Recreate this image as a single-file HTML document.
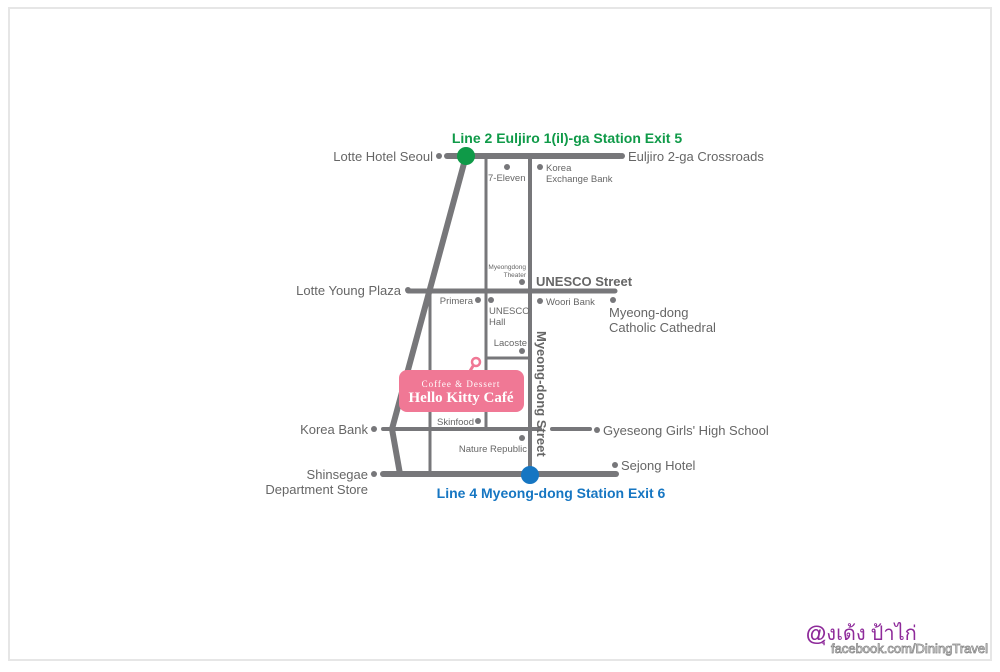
<!DOCTYPE html>
<html><head><meta charset="utf-8"><style>
body{margin:0;width:1000px;height:667px;background:#fff;overflow:hidden}
svg text{font-family:"Liberation Sans",sans-serif}
</style></head><body>
<svg width="1000" height="667" viewBox="0 0 1000 667">
<rect x="0" y="0" width="1000" height="667" fill="#fff"/>
<rect x="9" y="8" width="982" height="652" fill="#fff" stroke="#e6e6e6" stroke-width="2"/>
<g stroke="#77777a" stroke-linecap="round" fill="none">
<line x1="447" y1="156" x2="620" y2="156" stroke-width="6"/>
<polyline points="466,156 392,429 400,474" stroke-width="6" stroke-linejoin="round"/>
<line x1="486" y1="156" x2="486" y2="428" stroke-width="3"/>
<line x1="530" y1="156" x2="530" y2="474" stroke-width="4"/>
<line x1="430" y1="291" x2="430" y2="474" stroke-width="3"/>
<line x1="408" y1="291" x2="615" y2="291" stroke-width="5"/>
<line x1="486" y1="358" x2="530" y2="358" stroke-width="3"/>
<line x1="383" y1="429" x2="540" y2="429" stroke-width="4"/>
<line x1="552" y1="429" x2="590" y2="429" stroke-width="4"/>
<line x1="383" y1="474" x2="616" y2="474" stroke-width="6"/>
</g>
<g fill="#77777a">
<circle cx="439" cy="156" r="3"/><circle cx="622" cy="156" r="3"/>
<circle cx="507" cy="167" r="3"/><circle cx="540" cy="167" r="3"/>
<circle cx="522" cy="282" r="3"/><circle cx="408" cy="290" r="3"/>
<circle cx="478" cy="300" r="3"/><circle cx="491" cy="300" r="3"/>
<circle cx="540" cy="301" r="3"/><circle cx="613" cy="300" r="3"/>
<circle cx="522" cy="351" r="3"/><circle cx="478" cy="421" r="3"/>
<circle cx="374" cy="429" r="3"/><circle cx="597" cy="430" r="3"/>
<circle cx="522" cy="438" r="3"/><circle cx="374" cy="474" r="3"/>
<circle cx="615" cy="465" r="3"/>
</g>
<circle cx="466" cy="156" r="9" fill="#0f9a48"/>
<circle cx="530" cy="475" r="9" fill="#1676c2"/>
<rect x="399" y="370" width="125" height="42" rx="8" fill="#f07895"/>
<circle cx="476" cy="362" r="4" fill="none" stroke="#f07895" stroke-width="2.5"/>
<line x1="473" y1="366" x2="470" y2="371" stroke="#f07895" stroke-width="3"/>
<text x="461" y="387" font-size="9" fill="#fff" text-anchor="middle" letter-spacing="1" style="font-family:'Liberation Serif',serif">Coffee &amp; Dessert</text>
<text x="461" y="402" font-size="15" font-weight="bold" fill="#fff" text-anchor="middle" style="font-family:'Liberation Serif',serif">Hello Kitty Café</text>
<text x="567" y="143" font-size="14" font-weight="bold" fill="#0f9a48" text-anchor="middle">Line 2 Euljiro 1(il)-ga Station Exit 5</text>
<text x="551" y="498" font-size="14" font-weight="bold" fill="#1676c2" text-anchor="middle">Line 4 Myeong-dong Station Exit 6</text>
<g fill="#666" font-size="13">
<text x="433" y="161" text-anchor="end">Lotte Hotel Seoul</text>
<text x="628" y="161">Euljiro 2-ga Crossroads</text>
<text x="401" y="295" text-anchor="end">Lotte Young Plaza</text>
<text x="609" y="317">Myeong-dong</text>
<text x="609" y="332">Catholic Cathedral</text>
<text x="368" y="434" text-anchor="end">Korea Bank</text>
<text x="603" y="435">Gyeseong Girls' High School</text>
<text x="368" y="479" text-anchor="end">Shinsegae</text>
<text x="368" y="494" text-anchor="end">Department Store</text>
<text x="621" y="470">Sejong Hotel</text>
</g>
<text x="536" y="286" font-size="13" font-weight="bold" fill="#666">UNESCO Street</text>
<text transform="translate(537,331) rotate(90)" font-size="13" font-weight="bold" fill="#666">Myeong-dong Street</text>
<g fill="#666" font-size="9.5">
<text x="488" y="181">7-Eleven</text>
<text x="546" y="171">Korea</text>
<text x="546" y="182">Exchange Bank</text>
<text x="473" y="304" text-anchor="end">Primera</text>
<text x="489" y="314">UNESCO</text>
<text x="489" y="325">Hall</text>
<text x="546" y="305">Woori Bank</text>
<text x="527" y="346" text-anchor="end">Lacoste</text>
<text x="474" y="425" text-anchor="end">Skinfood</text>
<text x="527" y="452" text-anchor="end">Nature Republic</text>
</g>
<g fill="#666" font-size="6.5">
<text x="526" y="269" text-anchor="end">Myeongdong</text>
<text x="526" y="277" text-anchor="end">Theater</text>
</g>
<text x="806" y="640" font-size="20" fill="#8e2a9a" style="font-family:'Liberation Serif',serif">@ุงเด้ง ป้าไก่</text>
<text x="831" y="653" font-size="13" fill="#fff" stroke="#888" stroke-width="0.8">facebook.com/DiningTravel</text>
</svg>
</body></html>
